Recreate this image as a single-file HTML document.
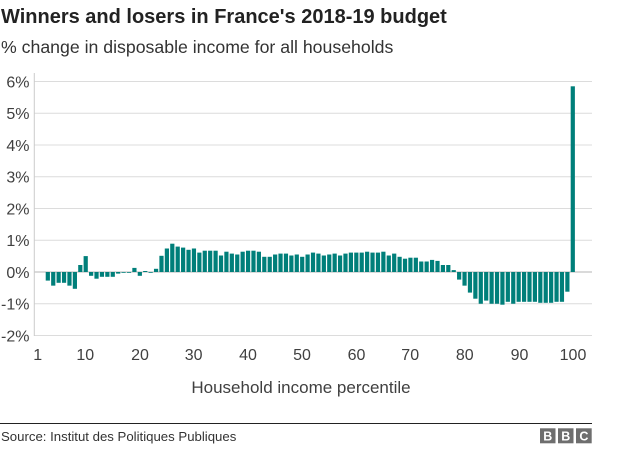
<!DOCTYPE html>
<html>
<head>
<meta charset="utf-8">
<style>
  html,body{margin:0;padding:0;background:#fff;}
  body{width:624px;height:474px;overflow:hidden;}
  svg{display:block;}
  text{font-family:"Liberation Sans",Arial,sans-serif;}
</style>
</head>
<body>
<svg width="624" height="474" viewBox="0 0 624 474" xmlns="http://www.w3.org/2000/svg">
  <!-- Title -->
  <text x="1" y="23" font-size="20" font-weight="bold" fill="#222">Winners and losers in France's 2018-19 budget</text>
  <text x="1" y="53" font-size="17.7" fill="#333">% change in disposable income for all households</text>

  <!-- gridlines -->
  <g stroke="#dcdcdc" stroke-width="1">
    <line x1="34" y1="81.5" x2="592" y2="81.5"/>
    <line x1="34" y1="113.25" x2="592" y2="113.25"/>
    <line x1="34" y1="145" x2="592" y2="145"/>
    <line x1="34" y1="176.75" x2="592" y2="176.75"/>
    <line x1="34" y1="208.5" x2="592" y2="208.5"/>
    <line x1="34" y1="240.25" x2="592" y2="240.25"/>
    <line x1="34" y1="303.75" x2="592" y2="303.75"/>
    <line x1="34" y1="335.5" x2="592" y2="335.5"/>
  </g>
  <line x1="34" y1="272" x2="592" y2="272" stroke="#b4b4b4" stroke-width="1"/>
  <line x1="34.3" y1="73" x2="34.3" y2="336" stroke="#cccccc" stroke-width="1"/>

  <!-- y labels -->
  <g font-size="16" fill="#404040" text-anchor="end">
    <text x="29.5" y="87.3">6%</text>
    <text x="29.5" y="119">5%</text>
    <text x="29.5" y="150.8">4%</text>
    <text x="29.5" y="182.5">3%</text>
    <text x="29.5" y="214.3">2%</text>
    <text x="29.5" y="246">1%</text>
    <text x="29.5" y="277.8">0%</text>
    <text x="29.5" y="309.5">-1%</text>
    <text x="29.5" y="341.3">-2%</text>
  </g>

  <!-- bars -->
  <g fill="#007f7a">
    <rect x="45.72" y="272" width="4.2" height="8.6"/>
    <rect x="51.14" y="272" width="4.2" height="13.65"/>
    <rect x="56.55" y="272" width="4.2" height="10.8"/>
    <rect x="61.96" y="272" width="4.2" height="10.8"/>
    <rect x="67.37" y="272" width="4.2" height="13.65"/>
    <rect x="72.78" y="272" width="4.2" height="16.8"/>
    <rect x="78.20" y="265" width="4.2" height="7"/>
    <rect x="83.61" y="256.1" width="4.2" height="15.9"/>
    <rect x="89.02" y="272" width="4.2" height="3.8"/>
    <rect x="94.43" y="272" width="4.2" height="6.7"/>
    <rect x="99.84" y="272" width="4.2" height="4.8"/>
    <rect x="105.26" y="272" width="4.2" height="4.8"/>
    <rect x="110.67" y="272" width="4.2" height="4.8"/>
    <rect x="116.08" y="272" width="4.2" height="1.6"/>
    <rect x="121.49" y="272" width="4.2" height="0.8"/>
    <rect x="126.90" y="272" width="4.2" height="0.8"/>
    <rect x="132.32" y="267.9" width="4.2" height="4.1"/>
    <rect x="137.73" y="272" width="4.2" height="3.8"/>
    <rect x="143.14" y="271" width="4.2" height="1"/>
    <rect x="148.55" y="272" width="4.2" height="0.8"/>
    <rect x="153.96" y="268.8" width="4.2" height="3.2"/>
    <rect x="159.38" y="255.8" width="4.2" height="16.2"/>
    <rect x="164.79" y="248.5" width="4.2" height="23.5"/>
    <rect x="170.20" y="243.7" width="4.2" height="28.3"/>
    <rect x="175.61" y="246.6" width="4.2" height="25.4"/>
    <rect x="181.02" y="247.6" width="4.2" height="24.4"/>
    <rect x="186.44" y="249.8" width="4.2" height="22.2"/>
    <rect x="191.85" y="248.5" width="4.2" height="23.5"/>
    <rect x="197.26" y="252.6" width="4.2" height="19.4"/>
    <rect x="202.67" y="250.7" width="4.2" height="21.3"/>
    <rect x="208.08" y="250.7" width="4.2" height="21.3"/>
    <rect x="213.50" y="250.7" width="4.2" height="21.3"/>
    <rect x="218.91" y="255.5" width="4.2" height="16.5"/>
    <rect x="224.32" y="251.7" width="4.2" height="20.3"/>
    <rect x="229.73" y="253.6" width="4.2" height="18.4"/>
    <rect x="235.14" y="254.5" width="4.2" height="17.5"/>
    <rect x="240.56" y="251.7" width="4.2" height="20.3"/>
    <rect x="245.97" y="250.7" width="4.2" height="21.3"/>
    <rect x="251.38" y="250.7" width="4.2" height="21.3"/>
    <rect x="256.79" y="251.7" width="4.2" height="20.3"/>
    <rect x="262.20" y="256.8" width="4.2" height="15.2"/>
    <rect x="267.62" y="256.8" width="4.2" height="15.2"/>
    <rect x="273.03" y="254.5" width="4.2" height="17.5"/>
    <rect x="278.44" y="253.6" width="4.2" height="18.4"/>
    <rect x="283.85" y="253.6" width="4.2" height="18.4"/>
    <rect x="289.26" y="255.5" width="4.2" height="16.5"/>
    <rect x="294.68" y="254.5" width="4.2" height="17.5"/>
    <rect x="300.09" y="256.8" width="4.2" height="15.2"/>
    <rect x="305.50" y="254.5" width="4.2" height="17.5"/>
    <rect x="310.91" y="252.6" width="4.2" height="19.4"/>
    <rect x="316.32" y="253.6" width="4.2" height="18.4"/>
    <rect x="321.74" y="255.5" width="4.2" height="16.5"/>
    <rect x="327.15" y="254.5" width="4.2" height="17.5"/>
    <rect x="332.56" y="253.6" width="4.2" height="18.4"/>
    <rect x="337.97" y="255.5" width="4.2" height="16.5"/>
    <rect x="343.38" y="253.6" width="4.2" height="18.4"/>
    <rect x="348.80" y="252.6" width="4.2" height="19.4"/>
    <rect x="354.21" y="252.6" width="4.2" height="19.4"/>
    <rect x="359.62" y="252.6" width="4.2" height="19.4"/>
    <rect x="365.03" y="251.7" width="4.2" height="20.3"/>
    <rect x="370.44" y="252.6" width="4.2" height="19.4"/>
    <rect x="375.86" y="252.6" width="4.2" height="19.4"/>
    <rect x="381.27" y="251.7" width="4.2" height="20.3"/>
    <rect x="386.68" y="255.5" width="4.2" height="16.5"/>
    <rect x="392.09" y="253.6" width="4.2" height="18.4"/>
    <rect x="397.50" y="256.8" width="4.2" height="15.2"/>
    <rect x="402.92" y="258.7" width="4.2" height="13.3"/>
    <rect x="408.33" y="257.7" width="4.2" height="14.3"/>
    <rect x="413.74" y="257.7" width="4.2" height="14.3"/>
    <rect x="419.15" y="261.5" width="4.2" height="10.5"/>
    <rect x="424.56" y="261.5" width="4.2" height="10.5"/>
    <rect x="429.98" y="259.9" width="4.2" height="12.1"/>
    <rect x="435.39" y="260.9" width="4.2" height="11.1"/>
    <rect x="440.80" y="265" width="4.2" height="7"/>
    <rect x="446.21" y="265" width="4.2" height="7"/>
    <rect x="451.62" y="270.1" width="4.2" height="1.9"/>
    <rect x="457.04" y="272" width="4.2" height="7.6"/>
    <rect x="462.45" y="272" width="4.2" height="13.65"/>
    <rect x="467.86" y="272" width="4.2" height="20.6"/>
    <rect x="473.27" y="272" width="4.2" height="26.7"/>
    <rect x="478.68" y="272" width="4.2" height="31.75"/>
    <rect x="484.10" y="272" width="4.2" height="28.6"/>
    <rect x="489.51" y="272" width="4.2" height="31.75"/>
    <rect x="494.92" y="272" width="4.2" height="31.75"/>
    <rect x="500.33" y="272" width="4.2" height="32.7"/>
    <rect x="505.74" y="272" width="4.2" height="29.8"/>
    <rect x="511.16" y="272" width="4.2" height="31.75"/>
    <rect x="516.57" y="272" width="4.2" height="29.8"/>
    <rect x="521.98" y="272" width="4.2" height="29.8"/>
    <rect x="527.39" y="272" width="4.2" height="29.8"/>
    <rect x="532.80" y="272" width="4.2" height="29.8"/>
    <rect x="538.22" y="272" width="4.2" height="30.8"/>
    <rect x="543.63" y="272" width="4.2" height="30.8"/>
    <rect x="549.04" y="272" width="4.2" height="30.8"/>
    <rect x="554.45" y="272" width="4.2" height="29.8"/>
    <rect x="559.86" y="272" width="4.2" height="29.8"/>
    <rect x="565.28" y="272" width="4.2" height="19.7"/>
    <rect x="570.69" y="86.3" width="4.2" height="185.7"/>
  </g>

  <!-- x labels -->
  <g font-size="16" fill="#404040" text-anchor="middle">
    <text x="37.7" y="360">1</text>
    <text x="85.3" y="360">10</text>
    <text x="140" y="360">20</text>
    <text x="193.6" y="360">30</text>
    <text x="248" y="360">40</text>
    <text x="302" y="360">50</text>
    <text x="356.5" y="360">60</text>
    <text x="410.2" y="360">70</text>
    <text x="464.8" y="360">80</text>
    <text x="519.5" y="360">90</text>
    <text x="573" y="360">100</text>
  </g>
  <text x="301" y="393" font-size="17" fill="#404040" text-anchor="middle">Household income percentile</text>

  <!-- footer -->
  <line x1="0" y1="423.5" x2="592" y2="423.5" stroke="#222" stroke-width="1"/>
  <text x="1" y="441" font-size="13.2" fill="#333">Source: Institut des Politiques Publiques</text>
  <g fill="#6e6e6e">
    <rect x="540" y="428.3" width="15.5" height="15"/>
    <rect x="558" y="428.3" width="15.5" height="15"/>
    <rect x="576" y="428.3" width="15.7" height="15"/>
  </g>
  <g font-size="12.5" font-weight="bold" fill="#fff" text-anchor="middle">
    <text x="547.8" y="440.5">B</text>
    <text x="565.8" y="440.5">B</text>
    <text x="583.9" y="440.5">C</text>
  </g>
</svg>
</body>
</html>
